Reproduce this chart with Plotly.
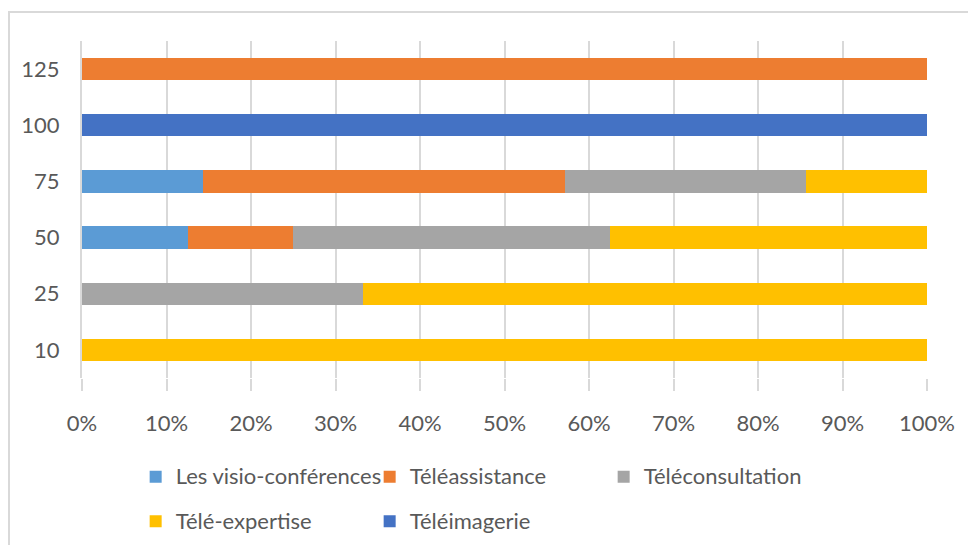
import plotly.graph_objects as go

categories = ["10", "25", "50", "75", "100", "125"]
series_names = ["Les visio-conférences", "Téléassistance", "Téléconsultation",
                "Télé-expertise", "Téléimagerie"]
visio = [0, 0, 12.5, 14.3, 0, 0]
teleassistance = [0, 0, 12.5, 42.9, 0, 100]
teleconsultation = [0, 33.3, 37.5, 28.5, 0, 0]
teleexpertise = [100, 66.7, 37.5, 14.3, 0, 0]
teleimagerie = [0, 0, 0, 0, 100, 0]
x_ticks = [0, 10, 20, 30, 40, 50, 60, 70, 80, 90, 100]
x_tick_labels = ["0%", "10%", "20%", "30%", "40%", "50%", "60%", "70%", "80%", "90%", "100%"]

colors = ["#5B9BD5", "#ED7D31", "#A5A5A5", "#FFC000", "#4472C4"]
values = [visio, teleassistance, teleconsultation, teleexpertise, teleimagerie]

fig = go.Figure()
for name, vals, col in zip(series_names, values, colors):
    fig.add_trace(go.Bar(y=categories, x=vals,
                         name='<span style="font-size:22px;baseline-shift:5px">' + name + '</span>',
                         orientation="h",
                         marker=dict(color=col, line=dict(width=0))))

font = "Lato, Open Sans, sans-serif"
# page body has an 8px margin; plot area sits at x 82..927, y 41..378 in the window
fig.update_layout(
    width=968, height=570,
    margin=dict(l=74, r=49, t=33, b=200),
    barmode="stack", barnorm="percent", bargap=0.6,
    plot_bgcolor="white", paper_bgcolor="white",
    font=dict(family=font, size=22, color="#595959"),
    showlegend=True,
    legend=dict(orientation="h", x=0.0635, y=-0.212, xanchor="left", yanchor="top",
                traceorder="normal", entrywidth=189, entrywidthmode="pixels",
                font=dict(size=32, color="#595959"), itemclick=False,
                tracegroupgap=0),
    xaxis=dict(range=[0, 100], tickvals=x_ticks, ticktext=x_tick_labels,
               showgrid=True, gridcolor="#D9D9D9", gridwidth=2, zeroline=False,
               ticks="outside", ticklen=12, tickcolor="#D9D9D9", tickwidth=2,
               ticklabelstandoff=14, showline=False, fixedrange=True),
    yaxis=dict(type="category", categoryorder="array", categoryarray=categories,
               showgrid=False, showline=True, linecolor="#D9D9D9", linewidth=2,
               ticks="", ticklabelstandoff=16, fixedrange=True),
    shapes=[dict(type="rect", xref="paper", yref="paper",
                 x0=(1 - 74) / 845, x1=(990 - 82) / 845,
                 y0=(378 - 600) / 337, y1=(378 - 12) / 337,
                 line=dict(color="#D9D9D9", width=2), fillcolor="rgba(0,0,0,0)",
                 layer="below")],
)

fig.write_html("out.html")
